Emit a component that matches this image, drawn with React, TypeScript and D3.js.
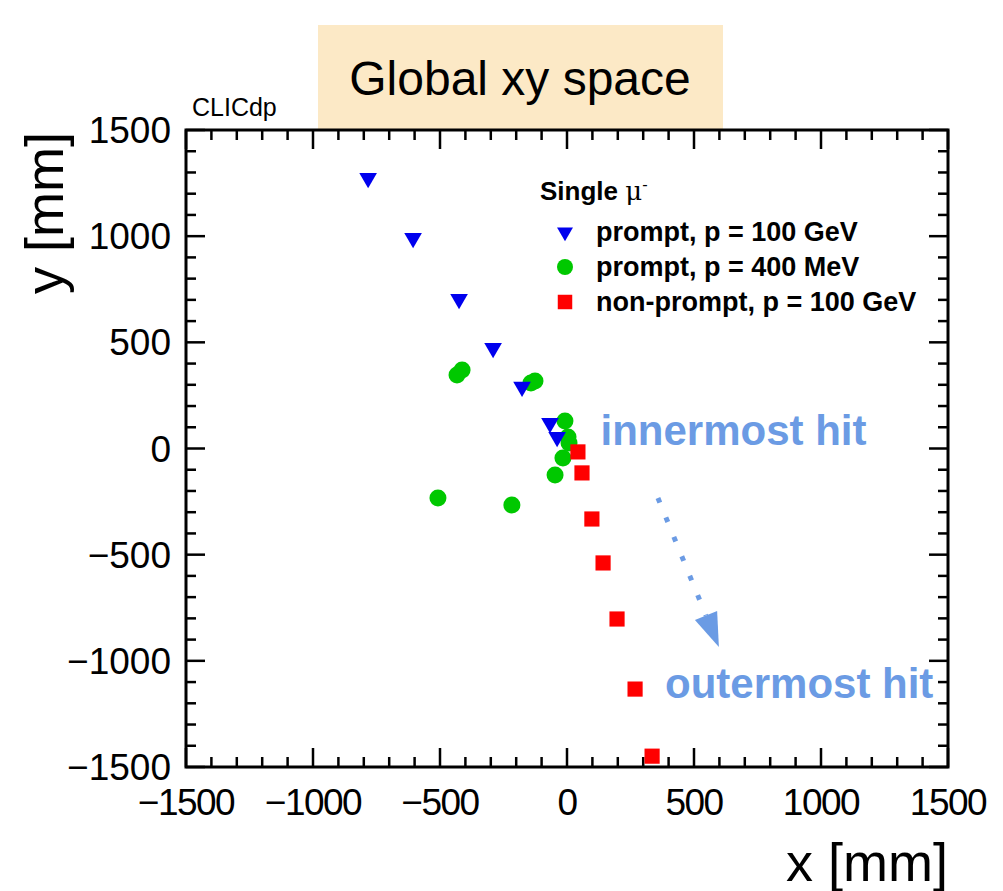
import { useEffect, useRef } from 'react';
import * as d3 from 'd3';

// hit positions in mm
const promptHighX = [-783, -606, -425, -291, -177, -67, -39];
const promptHighY = [1274, 991, 704, 473, 290, 120, 54];

const promptLowX = [-433, -413, -142, -126, -8, 4, 8, -16, -47, -508, -217];
const promptLowY = [346, 370, 309, 318, 130, 54, 26, -45, -125, -233, -266];

const nonPromptX = [43, 59, 98, 142, 197, 268, 335];
const nonPromptY = [-16, -115, -332, -539, -803, -1133, -1449];

const majorTicks = [-1500, -1000, -500, 0, 500, 1000, 1500];
const tickLabels = ['\u22121500', '\u22121000', '\u2212500', '0', '500', '1000', '1500'];

const legendLabels = ['prompt, p = 100 GeV', 'prompt, p = 400 MeV', 'non-prompt, p = 100 GeV'];

// annotation anchors (mm)
const innerLabel = { x: 132, y: 16, text: 'innermost hit' };
const outerLabel = { x: 386, y: -1175, text: 'outermost hit' };
const arrowFrom = [358, -233];
const arrowTo = [598, -935];

const FONT = 'Liberation Sans, Arial, Helvetica, sans-serif';
const ANNO = '#6b9be4';

export default function App() {
	const svgRef = useRef(null);
	const width = 1003;
	const height = 891;
	const left = 186, right = 948, top = 130, bottom = 767;

	useEffect(() => {
		const svg = d3.select(svgRef.current);
		svg.selectAll('*').remove();

		const x = d3.scaleLinear().domain([-1500, 1500]).range([left, right]);
		const y = d3.scaleLinear().domain([-1500, 1500]).range([bottom, top]);

		svg.append('rect').attr('width', width).attr('height', height).attr('fill', '#fff');

		// title box
		svg.append('rect')
			.attr('x', 318).attr('y', 25).attr('width', 405).attr('height', top - 25)
			.attr('fill', '#fce9c6');
		svg.append('text')
			.attr('x', 520).attr('y', 95)
			.attr('text-anchor', 'middle')
			.style('font', `48px ${FONT}`)
			.text('Global xy space');

		svg.append('text')
			.attr('x', 192).attr('y', 116)
			.style('font', `25px ${FONT}`)
			.text('CLICdp');

		// frame + ticks on all sides
		const minor = d3.range(-1500, 1501, 100);
		const g = svg.append('g').attr('stroke', '#000');
		minor.forEach(v => {
			const len = v % 500 === 0 ? 19 : 10;
			g.append('line').attr('x1', x(v)).attr('x2', x(v)).attr('y1', bottom).attr('y2', bottom - len).attr('stroke-width', 2.5);
			g.append('line').attr('x1', x(v)).attr('x2', x(v)).attr('y1', top).attr('y2', top + len).attr('stroke-width', 2.5);
			g.append('line').attr('y1', y(v)).attr('y2', y(v)).attr('x1', left).attr('x2', left + len).attr('stroke-width', 2.5);
			g.append('line').attr('y1', y(v)).attr('y2', y(v)).attr('x1', right).attr('x2', right - len).attr('stroke-width', 2.5);
		});
		g.append('rect')
			.attr('x', left).attr('y', top).attr('width', right - left).attr('height', bottom - top)
			.attr('fill', 'none').attr('stroke-width', 3);

		// tick labels
		majorTicks.forEach((v, i) => {
			svg.append('text')
				.attr('x', x(v)).attr('y', 815)
				.attr('text-anchor', 'middle')
				.style('font', `37px ${FONT}`)
				.attr('letter-spacing', -1.5)
				.text(tickLabels[i]);
			svg.append('text')
				.attr('x', 171).attr('y', y(v) + 13)
				.attr('text-anchor', 'end')
				.style('font', `37px ${FONT}`)
				.text(tickLabels[i]);
		});

		// axis titles
		svg.append('text')
			.attr('x', right).attr('y', 881)
			.attr('text-anchor', 'end')
			.style('font', `54px ${FONT}`)
			.text('x [mm]');
		svg.append('text')
			.attr('transform', `translate(63,${top + 2}) rotate(-90)`)
			.attr('text-anchor', 'end')
			.style('font', `54px ${FONT}`)
			.text('y [mm]');

		// data
		const tri = d3.symbol().type(d3.symbolTriangle).size(135);
		const sq = d3.symbol().type(d3.symbolSquare).size(230);

		svg.append('g').selectAll('circle')
			.data(d3.zip(promptLowX, promptLowY))
			.join('circle')
			.attr('cx', d => x(d[0])).attr('cy', d => y(d[1]))
			.attr('r', 8.5)
			.attr('fill', '#00c800');

		svg.append('g').selectAll('path')
			.data(d3.zip(promptHighX, promptHighY))
			.join('path')
			.attr('d', tri)
			.attr('transform', d => `translate(${x(d[0])},${y(d[1])}) rotate(180)`)
			.attr('fill', '#0000ee');

		svg.append('g').selectAll('path')
			.data(d3.zip(nonPromptX, nonPromptY))
			.join('path')
			.attr('d', sq)
			.attr('transform', d => `translate(${x(d[0])},${y(d[1])})`)
			.attr('fill', '#ff0000');

		// legend
		svg.append('text')
			.attr('x', 540).attr('y', 200)
			.style('font', `bold 26px ${FONT}`)
			.text('Single ')
			.append('tspan').style('font-weight', 'normal').style('font-family', 'DejaVu Serif, serif').text('\u03bc')
			.append('tspan').attr('dy', -10).style('font-size', '16px').text('-');
		const rows = [232, 267, 302];
		legendLabels.forEach((lab, i) => {
			const cy = rows[i];
			if (i === 0) {
				svg.append('path').attr('d', d3.symbol().type(d3.symbolTriangle).size(110)())
					.attr('transform', `translate(565,${cy}) rotate(180)`).attr('fill', '#0000ee');
			} else if (i === 1) {
				svg.append('circle').attr('cx', 565).attr('cy', cy).attr('r', 8).attr('fill', '#00c800');
			} else {
				svg.append('path').attr('d', d3.symbol().type(d3.symbolSquare).size(210)())
					.attr('transform', `translate(565,${cy})`).attr('fill', '#ff0000');
			}
			svg.append('text')
				.attr('x', 596).attr('y', cy + 9)
				.style('font', `bold 27px ${FONT}`)
				.text(lab);
		});

		// annotations
		[innerLabel, outerLabel].forEach(a => {
			svg.append('text')
				.attr('x', x(a.x)).attr('y', y(a.y))
				.style('font', `bold 42px ${FONT}`)
				.attr('fill', ANNO)
				.text(a.text);
		});

		const x0 = x(arrowFrom[0]), y0 = y(arrowFrom[1]);
		const x1 = x(arrowTo[0]), y1 = y(arrowTo[1]);
		const ang = Math.atan2(y1 - y0, x1 - x0);
		const headLen = 34, headW = 12;
		const bx = x1 - headLen * Math.cos(ang), by = y1 - headLen * Math.sin(ang);
		svg.append('line')
			.attr('x1', x0).attr('y1', y0).attr('x2', bx).attr('y2', by)
			.attr('stroke', ANNO).attr('stroke-width', 5)
			.attr('stroke-dasharray', '5 16');
		const nx = -Math.sin(ang), ny = Math.cos(ang);
		svg.append('path')
			.attr('d', d3.line()([
				[x1, y1],
				[bx + nx * headW, by + ny * headW],
				[bx - nx * headW, by - ny * headW],
			]) + 'Z')
			.attr('fill', ANNO);
	}, []);

	return (
		<svg ref={svgRef} width={width} height={height}
			style={{ position: 'absolute', left: 0, top: 0 }} />
	);
}
